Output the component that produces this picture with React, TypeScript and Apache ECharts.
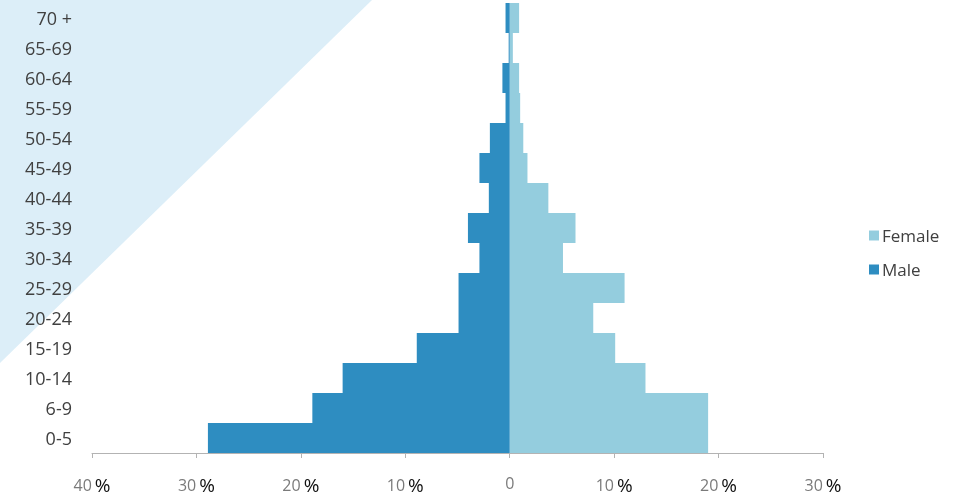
import React, { useEffect, useRef } from "react";
import * as echarts from "echarts";

const ageGroups = ["0-5", "6-9", "10-14", "15-19", "20-24", "25-29", "30-34", "35-39", "40-44", "45-49", "50-54", "55-59", "60-64", "65-69", "70 +"];
const maleValues = [28.9, 18.9, 16.0, 8.9, 4.9, 4.9, 2.9, 4.0, 2.0, 2.9, 1.9, 0.4, 0.7, 0.1, 0.4];
const femaleValues = [19.0, 19.0, 13.0, 10.1, 8.0, 11.0, 5.1, 6.3, 3.7, 1.7, 1.3, 1.0, 0.9, 0.3, 0.9];
const seriesNames = ["Female", "Male"];
const xTicks = { min: -40, max: 30, interval: 10 };

export default function App() {
  const ref = useRef<HTMLDivElement>(null);
  useEffect(() => {
    if (!ref.current) return;
    const chart = echarts.init(ref.current, null, { renderer: "svg" });
    const font = "'Open Sans', 'Noto Sans', sans-serif";
    chart.setOption({
      animation: false,
      textStyle: { fontFamily: font },
      graphic: [
        {
          type: "polygon",
          z: -10,
          silent: true,
          shape: { points: [[0, 0], [372, 0], [0, 363]] },
          style: { fill: "#DCEEF8" },
        },
      ],
      legend: {
        data: seriesNames,
        orient: "vertical",
        left: 864,
        top: 222,
        itemWidth: 10,
        itemHeight: 10,
        itemGap: 17,
        icon: "rect",
        textStyle: { fontSize: 17, color: "#404040", fontFamily: font, padding: [0, 0, 0, -2] },
      },
      grid: { left: 92, right: 136, top: 3, bottom: 44, containLabel: false },
      xAxis: {
        type: "value",
        min: xTicks.min,
        max: xTicks.max,
        interval: xTicks.interval,
        splitLine: { show: false },
        axisLine: { show: true, lineStyle: { color: "#B3B3B3", width: 1 } },
        axisTick: { show: true, length: 5, lineStyle: { color: "#B3B3B3" } },
        axisLabel: {
          margin: 22,
          formatter: (v: number) => (v === 0 ? "{n|0}" : `{n|${Math.abs(v)}}{p|%}`),
          rich: {
            n: { fontSize: 16, color: "#7A7A7A", fontFamily: font },
            p: { fontSize: 19, color: "#111111", fontFamily: font, padding: [0, 0, 0, 3] },
          },
        },
      },
      yAxis: {
        type: "category",
        data: ageGroups,
        axisLine: { show: false },
        axisTick: { show: false },
        axisLabel: { fontSize: 18, color: "#404040", margin: 20, fontFamily: font },
      },
      series: [
        {
          name: "Female",
          type: "bar",
          stack: "total",
          barCategoryGap: 0,
          barWidth: "100%",
          itemStyle: { color: "#94CDDE" },
          data: femaleValues,
        },
        {
          name: "Male",
          type: "bar",
          stack: "total",
          barCategoryGap: 0,
          barWidth: "100%",
          itemStyle: { color: "#2E8DC1" },
          data: maleValues.map((v) => -v),
        },
      ],
    });
    return () => chart.dispose();
  }, []);
  return <div ref={ref} style={{ position: "fixed", left: 0, top: 0, width: 959, height: 497 }} />;
}
